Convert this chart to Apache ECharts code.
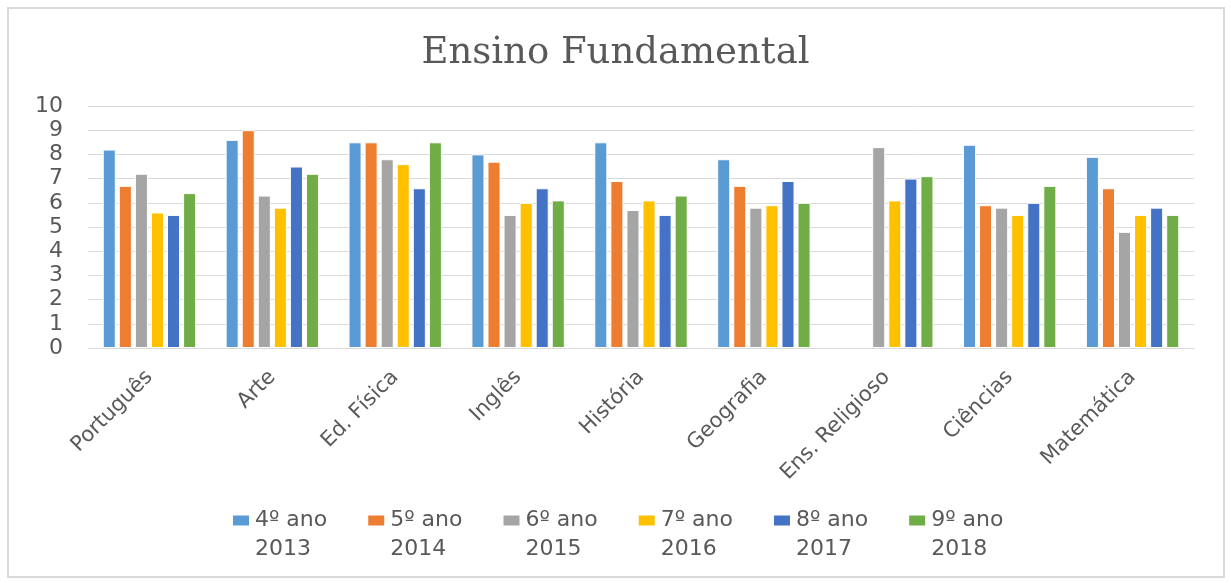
<!DOCTYPE html>
<html><head><meta charset="utf-8">
<script src="https://cdn.jsdelivr.net/npm/echarts@6/dist/echarts.min.js"></script>
<style>html,body{margin:0;padding:0;background:#fff}#c{width:1231px;height:583px}</style>
</head><body><div id="c"></div>
<script>
const categories = ['Português','Arte','Ed. Física','Inglês','História','Geografia','Ens. Religioso','Ciências','Matemática'];
const seriesNames = ['4º ano\n2013','5º ano\n2014','6º ano\n2015','7º ano\n2016','8º ano\n2017','9º ano\n2018'];
const ano4 = [8.2, 8.6, 8.5, 8.0, 8.5, 7.8, null, 8.4, 7.9];
const ano5 = [6.7, 9.0, 8.5, 7.7, 6.9, 6.7, null, 5.9, 6.6];
const ano6 = [7.2, 6.3, 7.8, 5.5, 5.7, 5.8, 8.3, 5.8, 4.8];
const ano7 = [5.6, 5.8, 7.6, 6.0, 6.1, 5.9, 6.1, 5.5, 5.5];
const ano8 = [5.5, 7.5, 6.6, 6.6, 5.5, 6.9, 7.0, 6.0, 5.8];
const ano9 = [6.4, 7.2, 8.5, 6.1, 6.3, 6.0, 7.1, 6.7, 5.5];
const yTicks = [0,1,2,3,4,5,6,7,8,9,10];
const colors = ['#5b9bd5','#ed7d31','#a5a5a5','#ffc000','#4472c4','#70ad47'];
const allData = [ano4, ano5, ano6, ano7, ano8, ano9];

const chart = echarts.init(document.getElementById('c'), null, {renderer:'canvas'});
const txt = '#595959';
const font = 'DejaVu Sans';
chart.setOption({
  animation: false,
  graphic: [{type:'rect', shape:{x:8,y:8,width:1216,height:569}, style:{fill:'none', stroke:'#d9d9d9', lineWidth:2}, silent:true}],
  title: {text:'Ensino Fundamental', left:'center', top:30,
    textStyle:{fontFamily:'DejaVu Serif', fontSize:37, fontWeight:'normal', color:txt}},
  color: colors,
  grid: {left:88, right:37, top:106, bottom:235, containLabel:false},
  legend: {top:472, left:226, itemWidth:18, itemHeight:12, itemGap:39,
    icon:'rect',
    formatter: n => ' \n' + n,
    textStyle:{fontFamily:font, fontSize:22, color:txt, lineHeight:29}},
  xAxis: {type:'category', data:categories,
    axisLine:{lineStyle:{color:'#d9d9d9', width:1}}, axisTick:{show:false},
    axisLabel:{rotate:45, fontFamily:font, fontSize:21, color:txt, margin:26, interval:0}},
  yAxis: {type:'value', min:0, max:10, interval:1,
    axisLine:{show:false}, axisTick:{show:false},
    splitLine:{lineStyle:{color:'#d9d9d9', width:1}},
    axisLabel:{fontFamily:font, fontSize:22, color:txt, margin:25,
      formatter: v => yTicks.includes(v) ? String(v) : ''}},
  series: allData.map((d,i)=>({
    name: seriesNames[i], type:'bar', data:d,
    barGap:'23%', barCategoryGap:'24%',
    itemStyle:{borderColor:'#ffffff', borderWidth:1}
  }))
});
</script></body></html>
